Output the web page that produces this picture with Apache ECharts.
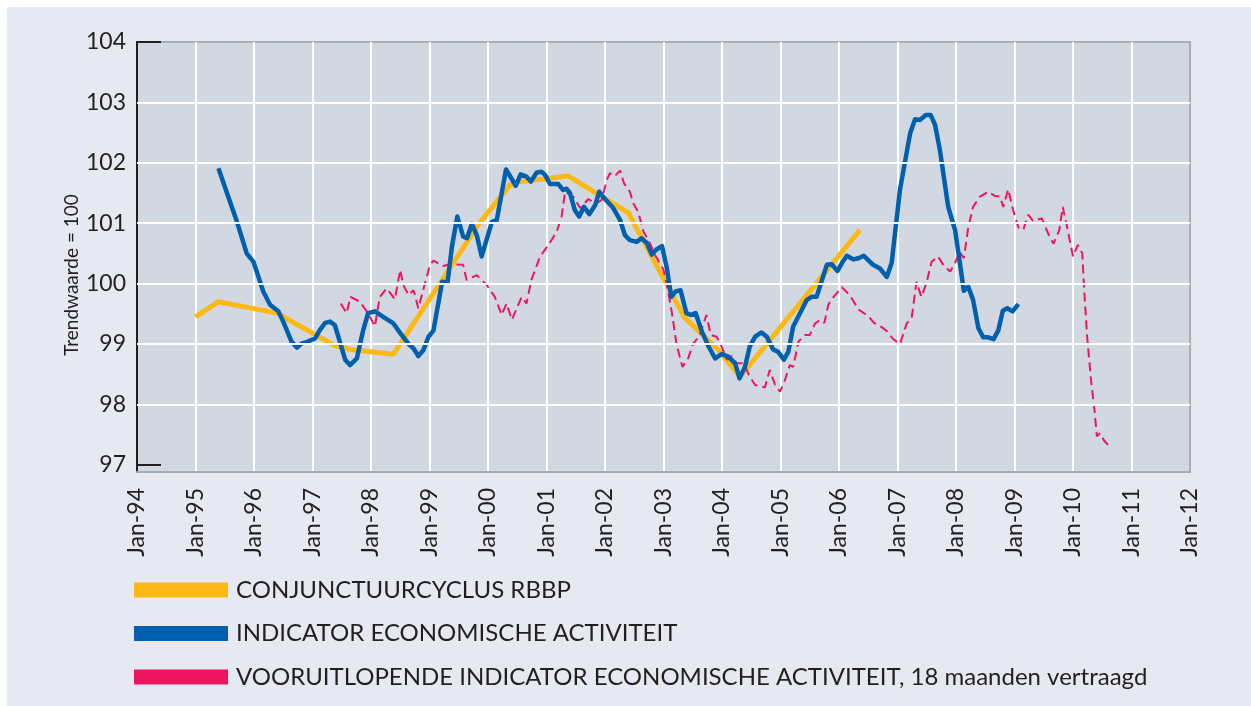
<!DOCTYPE html>
<html>
<head>
<meta charset="utf-8">
<script src="https://cdn.jsdelivr.net/npm/echarts@6/dist/echarts.min.js"></script>
<style>
  html, body { margin: 0; padding: 0; background: #ffffff; }
  #chart { width: 1251px; height: 706px; }
</style>
</head>
<body>
<div id="chart"></div>
<script>
// x = months since Jan-94, y = trend value
var xTickLabels = ['Jan-94', 'Jan-95', 'Jan-96', 'Jan-97', 'Jan-98', 'Jan-99', 'Jan-00', 'Jan-01', 'Jan-02', 'Jan-03',
    'Jan-04', 'Jan-05', 'Jan-06', 'Jan-07', 'Jan-08', 'Jan-09', 'Jan-10', 'Jan-11', 'Jan-12'];
var yTickValues = [97, 98, 99, 100, 101, 102, 103, 104];
var yGridValues = [98, 99, 100, 101, 102, 103];

var seriesNames = ['CONJUNCTUURCYCLUS RBBP', 'INDICATOR ECONOMISCHE ACTIVITEIT',
    'VOORUITLOPENDE INDICATOR ECONOMISCHE ACTIVITEIT, 18 maanden vertraagd'];

var cyclusData = [[12, 99.45], [16.7, 99.70], [28.7, 99.51], [40.6, 98.97], [43.7, 98.91], [52.6, 98.83],
    [70.4, 101.02], [76.5, 101.63], [78.6, 101.69], [88.5, 101.78], [100.8, 101.17], [112.3, 99.44],
    [119.6, 98.87], [123.7, 98.46], [148.3, 100.89]];

var indicatorData = [[16.7, 101.91], [20.4, 101.05], [22.5, 100.50], [23.9, 100.36], [25.9, 99.87], [27.3, 99.65],
    [29, 99.54], [30, 99.37], [31.7, 99.04], [32.8, 98.94], [33.8, 99.01], [34.8, 99.03], [36.5, 99.09],
    [37.5, 99.23], [38.6, 99.35], [39.6, 99.37], [40.6, 99.31], [41.6, 99.04], [42.7, 98.74], [43.7, 98.65],
    [45.1, 98.76], [46.4, 99.23], [47.4, 99.51], [48.8, 99.54], [50.5, 99.45], [52.6, 99.34], [54, 99.18],
    [55.7, 99.0], [56.7, 98.93], [57.7, 98.80], [58.7, 98.89], [59.8, 99.12], [60.8, 99.22], [62.6, 100.03],
    [63.7, 100.02], [64.6, 100.61], [65.7, 101.11], [66.9, 100.78], [67.7, 100.75], [68.7, 100.99],
    [69.7, 100.80], [70.7, 100.45], [72.8, 101.02], [73.8, 101.05], [75.7, 101.89], [77.7, 101.62],
    [78.7, 101.81], [79.9, 101.77], [80.8, 101.69], [82, 101.84], [83, 101.85], [83.7, 101.80], [84.7, 101.65],
    [86.4, 101.65], [87.4, 101.55], [88.1, 101.57], [88.8, 101.50], [89.8, 101.22], [90.7, 101.11],
    [91.7, 101.27], [92.8, 101.15], [94, 101.30], [94.8, 101.52], [96, 101.40], [97.7, 101.25], [99.1, 101.05],
    [100.1, 100.80], [101.1, 100.72], [102.5, 100.69], [103.5, 100.75], [104.6, 100.67], [105.6, 100.48],
    [106.5, 100.56], [107.7, 100.62], [108.7, 100.25], [109.6, 99.78], [110.5, 99.87], [111.5, 99.89],
    [112.7, 99.51], [113.6, 99.48], [114.6, 99.51], [115.9, 99.20], [117.3, 98.95], [118.6, 98.76],
    [119.9, 98.83], [121.3, 98.79], [122.7, 98.68], [123.6, 98.43], [124.7, 98.62], [125.7, 98.96],
    [126.8, 99.12], [128.1, 99.19], [129.2, 99.12], [130.5, 98.91], [131.5, 98.87], [132.7, 98.74],
    [133.6, 98.87], [134.6, 99.29], [136, 99.51], [137.4, 99.73], [138.4, 99.78], [139.4, 99.78],
    [140.4, 100.03], [141.5, 100.31], [142.5, 100.32], [143.7, 100.21], [144.6, 100.34], [145.6, 100.46],
    [147, 100.40], [148, 100.42], [149.1, 100.46], [150, 100.39], [151, 100.31], [152.4, 100.25],
    [153.8, 100.11], [154.8, 100.34], [156.5, 101.55], [158.6, 102.49], [159.6, 102.72], [160.6, 102.71],
    [161.8, 102.79], [162.8, 102.79], [163.7, 102.63], [164.7, 102.21], [166.4, 101.27], [167.8, 100.89],
    [168.8, 100.34], [169.6, 99.88], [170.5, 99.95], [171.5, 99.73], [172.6, 99.26], [173.6, 99.11],
    [174.6, 99.11], [175.7, 99.08], [176.7, 99.23], [177.6, 99.55], [178.5, 99.59], [179.6, 99.54],
    [180.8, 99.66]];

var vooruitData = [[41.8, 99.67], [43, 99.51], [43.8, 99.78], [45.7, 99.70], [47.4, 99.51], [48.8, 99.29],
    [49.8, 99.78], [51.2, 99.92], [52.9, 99.74], [54, 100.23], [54.6, 99.98], [55.7, 99.81], [56.7, 99.89],
    [57, 99.81], [57.7, 99.59], [58.7, 99.89], [60.1, 100.31], [60.8, 100.38], [62.8, 100.29], [64.2, 100.32],
    [66.9, 100.31], [67.6, 100.06], [69.7, 100.14], [71.7, 99.98], [73.4, 99.78], [74.8, 99.48], [75.8, 99.67],
    [76.9, 99.40], [77.9, 99.59], [78.9, 99.78], [79.9, 99.67], [80.9, 100.06], [82.7, 100.45], [84.4, 100.64],
    [86.1, 100.86], [87.1, 101.11], [87.8, 101.52], [89.5, 101.44], [90.9, 101.25], [92.6, 101.40],
    [94, 101.32], [95.3, 101.38], [96.4, 101.72], [97, 101.83], [98, 101.78], [99.1, 101.87], [99.9, 101.66],
    [101.1, 101.52], [101.8, 101.33], [102.8, 101.19], [103.9, 100.86], [104.9, 100.72], [106.3, 100.47],
    [108, 100.23], [108.7, 99.98], [109.7, 99.53], [110.7, 98.98], [111.9, 98.62], [113.1, 98.77],
    [114.1, 99.01], [115.3, 99.12], [116.8, 99.48], [117.7, 99.15], [118.9, 99.12], [119.9, 98.96],
    [121, 98.74], [122, 98.80], [123, 98.68], [124.4, 98.68], [125.7, 98.46], [126.8, 98.32], [128.8, 98.28],
    [129.8, 98.57], [130.9, 98.32], [131.9, 98.21], [132.9, 98.40], [133.9, 98.65], [134.6, 98.62],
    [135.7, 99.04], [137, 99.15], [138, 99.15], [139.1, 99.34], [140.1, 99.40], [141, 99.35], [141.8, 99.65],
    [142.9, 99.78], [144.6, 99.94], [146.3, 99.80], [148, 99.57], [150, 99.46], [151.2, 99.35], [152.9, 99.27],
    [154, 99.2], [155, 99.09], [156.5, 99.0], [157.9, 99.34], [158.9, 99.43], [159.9, 100.03], [160.9, 99.78],
    [161.9, 100.0], [163, 100.36], [164.3, 100.45], [165.4, 100.31], [166.8, 100.20], [167.8, 100.34],
    [168.7, 100.53], [169.6, 100.42], [170.5, 100.92], [171.5, 101.27], [172.9, 101.44], [174.6, 101.52],
    [176, 101.45], [177, 101.44], [177.7, 101.27], [178.7, 101.56], [179.7, 101.22], [180.8, 100.93],
    [181.8, 100.89], [182.8, 101.14], [183.8, 101.04], [185.6, 101.08], [186.9, 100.83], [188, 100.66],
    [189.2, 100.89], [189.9, 101.27], [190.9, 100.89], [192, 100.45], [193, 100.64], [193.9, 100.50],
    [194.3, 99.89], [194.9, 99.12], [195.7, 98.40], [196.4, 97.91], [196.9, 97.47], [197.6, 97.52],
    [198.3, 97.41], [199.8, 97.27]];

var font = 'Lato';
var chart = echarts.init(document.getElementById('chart'));

var option = {
    backgroundColor: '#ffffff',
    animation: false,
    graphic: [
        { type: 'rect', z: -10, shape: { x: 7, y: 7, width: 1244, height: 699 }, style: { fill: '#e6e9f1' } },
        {
            type: 'text', x: 72, y: 275, rotation: Math.PI / 2,
            style: { text: 'Trendwaarde = 100', font: '19px ' + font, fill: '#231f20', align: 'center', verticalAlign: 'middle' }
        }
    ],
    grid: {
        left: 137, right: 61, top: 42, bottom: 234,
        show: true, backgroundColor: '#d2d8e2', borderColor: '#a9adb3', borderWidth: 2
    },
    legend: {
        orient: 'vertical', left: 129, top: 573,
        itemWidth: 94, itemHeight: 15, itemGap: 19.5,
        icon: 'rect', selectedMode: false,
        itemStyle: { borderWidth: 0 },
        textStyle: { fontFamily: font, fontSize: 24, lineHeight: 21, color: '#231f20', padding: [0, 0, 0, 3] },
        data: seriesNames
    },
    xAxis: {
        type: 'value', min: 0, max: 216, interval: 12,
        axisLine: { show: true, lineStyle: { color: '#a9adb3', width: 2 } },
        axisTick: { show: false },
        axisLabel: {
            rotate: 90, margin: 16, fontFamily: font, fontSize: 23, color: '#231f20',
            formatter: function (v) { return xTickLabels[Math.round(v / 12)]; }
        },
        splitLine: { show: true, showMinLine: false, showMaxLine: false, lineStyle: { color: '#ffffff', width: 2 } }
    },
    yAxis: {
        type: 'value', min: 96.88, max: 104,
        axisLine: { show: true, lineStyle: { color: '#231f20', width: 2 } },
        axisTick: { show: true, inside: true, length: 24, lineStyle: { color: '#231f20', width: 2 }, customValues: yTickValues },
        axisLabel: { margin: 11, fontFamily: font, fontSize: 23, color: '#231f20', customValues: yTickValues },
        splitLine: { show: false }
    },
    series: [
        {
            name: 'grid', type: 'line', data: [], z: 1, silent: true,
            markLine: {
                silent: true, symbol: 'none', label: { show: false },
                lineStyle: { color: '#ffffff', width: 2, type: 'solid' },
                data: yGridValues.map(function (v) { return { yAxis: v }; })
            }
        },
        {
            name: seriesNames[0], type: 'line', data: cyclusData, showSymbol: false, z: 2,
            itemStyle: { color: '#fdb913' },
            lineStyle: { color: '#fdb913', width: 5 }
        },
        {
            name: seriesNames[2], type: 'line', data: vooruitData, showSymbol: false, z: 3,
            itemStyle: { color: '#ee1560' },
            lineStyle: { color: '#ee1560', width: 2, type: [9, 5] }
        },
        {
            name: seriesNames[1], type: 'line', data: indicatorData, showSymbol: false, z: 4,
            itemStyle: { color: '#0060ae' },
            lineStyle: { color: '#0060ae', width: 4.5, join: 'round' }
        }
    ]
};

chart.setOption(option);
</script>
</body>
</html>
